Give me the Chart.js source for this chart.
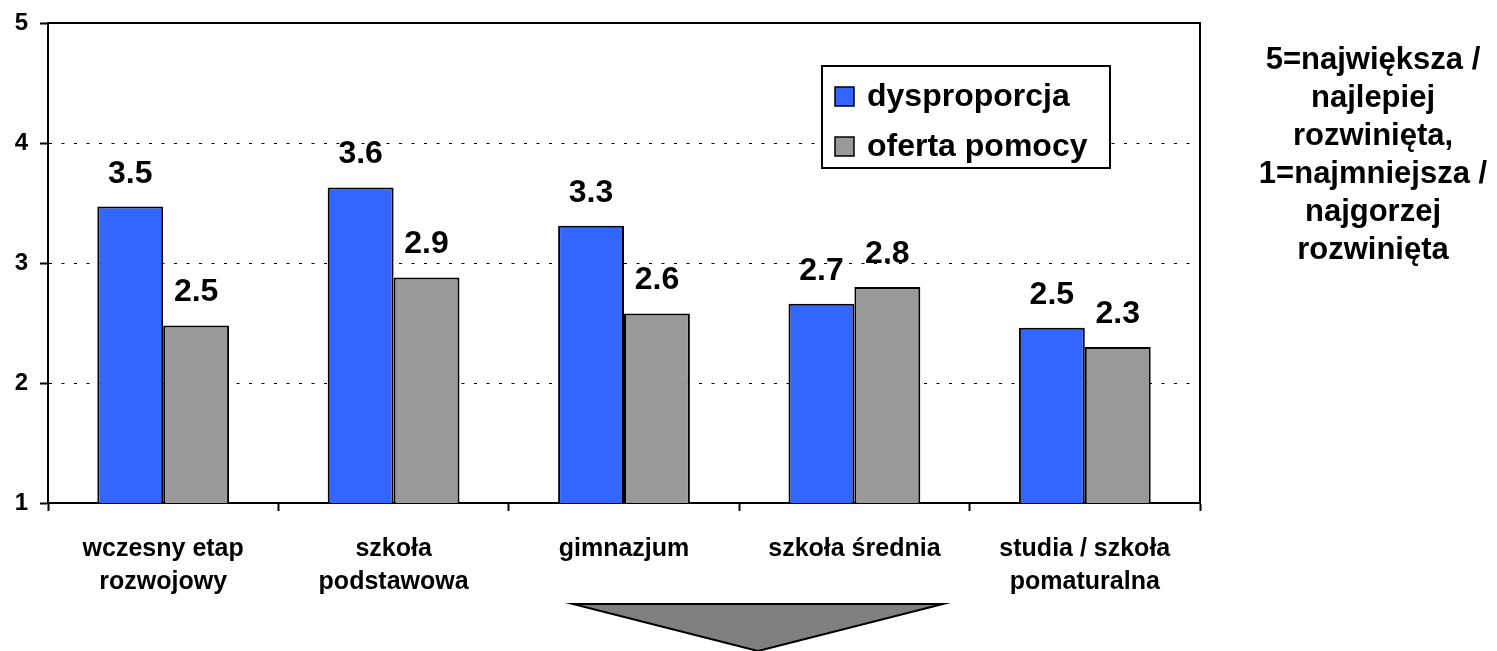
<!DOCTYPE html>
<html>
<head>
<meta charset="utf-8">
<script src="https://cdn.jsdelivr.net/npm/chart.js@4.4.0/dist/chart.umd.min.js"></script>
<style>
  body { margin: 0; background: #fff; }
  .chart { position: relative; width: 1497px; height: 651px; }
</style>
</head>
<body>
<div class="chart"><canvas id="chartDys"></canvas></div>
<script>
const categories = [
  ['wczesny etap', 'rozwojowy'],
  ['szkoła', 'podstawowa'],
  'gimnazjum',
  'szkoła średnia',
  ['studia / szkoła', 'pomaturalna']
];
const dysproporcja = [3.47, 3.63, 3.31, 2.66, 2.46];
const ofertaPomocy = [2.48, 2.88, 2.58, 2.80, 2.30];
const seriesNames = ['dysproporcja', 'oferta pomocy'];
const yMin = 1, yMax = 5, yStep = 1;
const noteLines = ['5=największa /', 'najlepiej', 'rozwinięta,', '1=najmniejsza /', 'najgorzej', 'rozwinięta'];

const FONT = '"Liberation Sans", Arial, sans-serif';
const colors = ['#3366FF', '#999999'];

// labels, frame, legend, side note and the arrow below the axis
const decor = {
  id: 'decor',
  afterDatasetsDraw(chart) {
    const ctx = chart.ctx;
    const a = chart.chartArea;
    ctx.save();

    ctx.fillStyle = '#000';
    ctx.textAlign = 'center';
    ctx.textBaseline = 'alphabetic';
    ctx.font = 'bold 32px ' + FONT;
    chart.data.datasets.forEach((ds, i) => {
      chart.getDatasetMeta(i).data.forEach((bar, j) => {
        ctx.fillText(ds.data[j].toFixed(1), bar.x, bar.y - 24);
      });
    });

    // top and right frame
    ctx.strokeStyle = '#000';
    ctx.lineWidth = 2;
    ctx.beginPath();
    ctx.moveTo(a.left, a.top);
    ctx.lineTo(a.right, a.top);
    ctx.lineTo(a.right, a.bottom);
    ctx.stroke();

    // legend
    const lx = 822, ly = 66, lw = 288, lh = 102;
    ctx.fillStyle = '#fff';
    ctx.fillRect(lx, ly, lw, lh);
    ctx.strokeRect(lx, ly, lw, lh);
    ctx.textAlign = 'left';
    ctx.font = 'bold 32px ' + FONT;
    chart.data.datasets.forEach((ds, i) => {
      const y = ly + 21 + i * 50;
      ctx.fillStyle = ds.backgroundColor;
      ctx.fillRect(lx + 13, y, 19, 19);
      ctx.lineWidth = 1.5;
      ctx.strokeRect(lx + 13, y, 19, 19);
      ctx.fillStyle = '#000';
      ctx.fillText(ds.label, lx + 45, y + 19);
    });

    // side note
    ctx.textAlign = 'center';
    ctx.font = 'bold 31px ' + FONT;
    noteLines.forEach((t, i) => ctx.fillText(t, 1373, 69 + i * 38));

    // arrow
    ctx.beginPath();
    ctx.moveTo(573, 604);
    ctx.lineTo(943, 604);
    ctx.lineTo(758, 651);
    ctx.closePath();
    ctx.fillStyle = '#808080';
    ctx.fill();
    ctx.lineWidth = 2;
    ctx.strokeStyle = '#000';
    ctx.stroke();

    ctx.restore();
  }
};

new Chart(document.getElementById('chartDys'), {
  type: 'bar',
  data: {
    labels: categories,
    datasets: [
      {
        label: seriesNames[0],
        data: dysproporcja,
        backgroundColor: colors[0],
        borderColor: '#000',
        borderWidth: 2,
        borderSkipped: 'start'
      },
      {
        label: seriesNames[1],
        data: ofertaPomocy,
        backgroundColor: colors[1],
        borderColor: '#000',
        borderWidth: 2,
        borderSkipped: 'start'
      }
    ]
  },
  options: {
    responsive: true,
    maintainAspectRatio: false,
    animation: false,
    layout: { padding: { top: 23, right: 297, left: 0, bottom: 0 } },
    datasets: {
      bar: { categoryPercentage: 0.572, barPercentage: 1.0 }
    },
    scales: {
      x: {
        grid: {
          offset: true,
          drawOnChartArea: false,
          tickLength: 8,
          tickColor: '#000',
          tickWidth: 2
        },
        border: { color: '#000', width: 2 },
        ticks: {
          color: '#000',
          padding: 22,
          maxRotation: 0,
          font: { family: FONT, size: 25, weight: 'bold', lineHeight: 1.32 }
        },
        afterFit(scale) { scale.height = 148; }
      },
      y: {
        min: yMin,
        max: yMax,
        grid: {
          color: '#000',
          lineWidth: 1,
          tickLength: 8,
          tickColor: '#000',
          tickWidth: 2
        },
        border: { color: '#000', width: 2, dash: [3, 9.5] },
        ticks: {
          stepSize: yStep,
          color: '#000',
          padding: 12,
          font: { family: FONT, size: 24, weight: 'bold' }
        },
        afterFit(scale) {
          scale.width = 48;
          scale.paddingTop = 0;
          scale.paddingBottom = 0;
        }
      }
    },
    plugins: {
      legend: { display: false },
      tooltip: { enabled: false }
    }
  },
  plugins: [decor]
});
</script>
</body>
</html>
